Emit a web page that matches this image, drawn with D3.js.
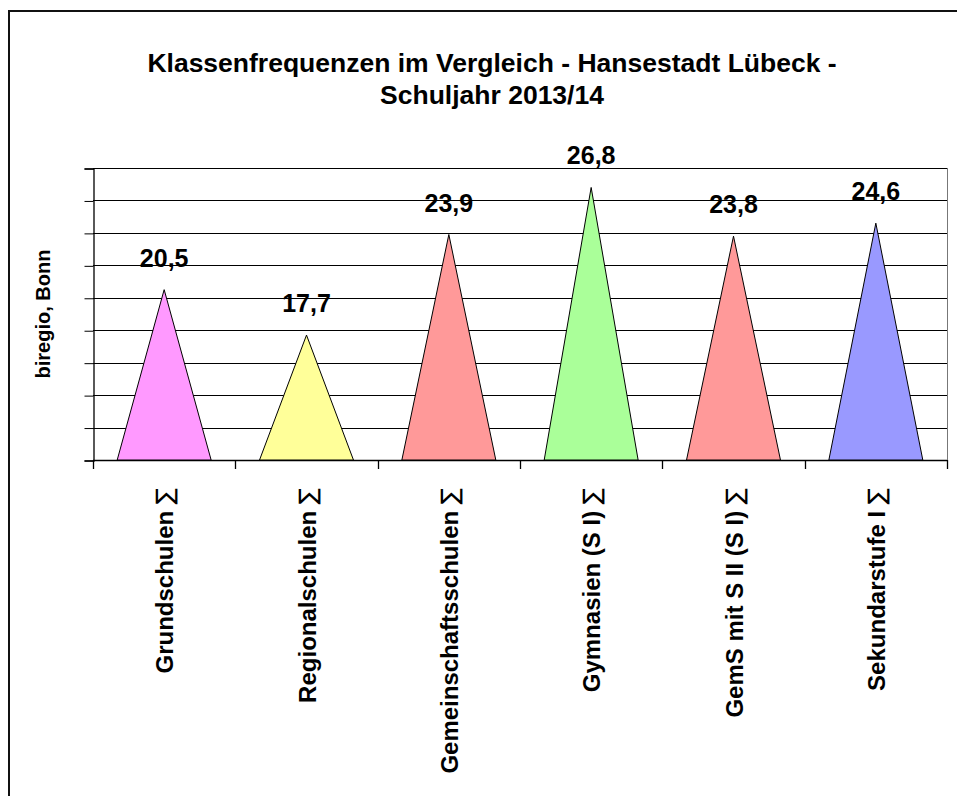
<!DOCTYPE html>
<html>
<head>
<meta charset="utf-8">
<script src="https://cdn.jsdelivr.net/npm/d3@7"></script>
<style>
  body { margin: 0; background: #fff; }
  text { font-family: "Liberation Sans", Arial, sans-serif; }
</style>
</head>
<body>
<svg id="chart" width="957" height="796"></svg>
<script>
const categories = [
  "Grundschulen \u2211",
  "Regionalschulen \u2211",
  "Gemeinschaftsschulen \u2211",
  "Gymnasien (S I) \u2211",
  "GemS mit S II (S I) \u2211",
  "Sekundarstufe I \u2211"
];
const values = [20.5, 17.7, 23.9, 26.8, 23.8, 24.6];
const barColors = ["#ff99ff", "#ffff99", "#ff9999", "#aaff99", "#ff9999", "#9999ff"];
const yTickValues = [10, 12, 14, 16, 18, 20, 22, 24, 26, 28];
const titleLines = ["Klassenfrequenzen im Vergleich - Hansestadt Lübeck -", "Schuljahr 2013/14"];
const yAxisTitle = "biregio, Bonn";

const svg = d3.select("#chart"),
  width = +svg.attr("width"),
  height = +svg.attr("height");

const plot = { left: 93, right: 947, top: 168, bottom: 460 };

svg.append("rect")
  .attr("width", width).attr("height", height).attr("fill", "#fff");

// outer chart frame (right/bottom run off the picture)
svg.append("rect")
  .attr("x", 9).attr("y", 11)
  .attr("width", width + 20).attr("height", height + 20)
  .attr("fill", "none").attr("stroke", "#111").attr("stroke-width", 2);

const x = d3.scaleBand()
  .domain(categories)
  .range([plot.left, plot.right])
  .paddingInner(0).paddingOuter(0);

const y = d3.scaleLinear()
  .domain([10, 28])
  .range([plot.bottom, plot.top]);

// gridlines
svg.append("g")
  .selectAll("line")
  .data(yTickValues)
  .join("line")
  .attr("x1", plot.left).attr("x2", plot.right)
  .attr("y1", (d) => Math.round(y(d)) + 0.5)
  .attr("y2", (d) => Math.round(y(d)) + 0.5)
  .attr("stroke", "#000").attr("stroke-width", 1);

// right edge of plot area
svg.append("line")
  .attr("x1", plot.right + 0.5).attr("x2", plot.right + 0.5)
  .attr("y1", plot.top).attr("y2", plot.bottom)
  .attr("stroke", "#777").attr("stroke-width", 1);

// y axis (ticks only, no labels)
svg.append("g")
  .attr("transform", `translate(${plot.left + 0.5},0.5)`)
  .call(d3.axisLeft(y).tickValues(yTickValues).tickSize(9).tickFormat(""))
  .call((g) => g.select(".domain").attr("stroke", "#000").attr("stroke-width", 1.3))
  .call((g) => g.selectAll(".tick line").attr("stroke", "#000"));

// x axis line + band boundary ticks
const bounds = categories.map((c) => x(c)).concat([plot.right]);
svg.append("line")
  .attr("x1", plot.left).attr("x2", plot.right)
  .attr("y1", plot.bottom + 0.5).attr("y2", plot.bottom + 0.5)
  .attr("stroke", "#000").attr("stroke-width", 1.3);
svg.append("g")
  .selectAll("line")
  .data(bounds)
  .join("line")
  .attr("x1", (d) => Math.round(d) + 0.5).attr("x2", (d) => Math.round(d) + 0.5)
  .attr("y1", plot.bottom).attr("y2", plot.bottom + 9)
  .attr("stroke", "#000").attr("stroke-width", 1.3);

// triangles
const halfW = x.bandwidth() * 0.33;
svg.append("g")
  .selectAll("path")
  .data(values)
  .join("path")
  .attr("d", (d, i) => {
    const cx = x(categories[i]) + x.bandwidth() / 2;
    return `M${cx - halfW},${y(10)}L${cx},${y(d)}L${cx + halfW},${y(10)}Z`;
  })
  .attr("fill", (d, i) => barColors[i])
  .attr("stroke", "#000")
  .attr("stroke-width", 1);

// value labels
svg.append("g")
  .selectAll("text")
  .data(values)
  .join("text")
  .attr("x", (d, i) => x(categories[i]) + x.bandwidth() / 2)
  .attr("y", (d) => y(d) - 23)
  .attr("text-anchor", "middle")
  .attr("font-size", "25px")
  .attr("font-weight", "bold")
  .text((d) => d.toFixed(1).replace(".", ","));

// category labels (sigma drawn thin, as in the original)
const catLabels = svg.append("g")
  .selectAll("text")
  .data(categories)
  .join("text")
  .attr("transform", (d) => `translate(${x(d) + x.bandwidth() / 2 + 9},488) rotate(-90)`)
  .attr("text-anchor", "end")
  .attr("font-size", "24px")
  .attr("font-weight", "bold");
catLabels.append("tspan").text((d) => d.slice(0, -1));
catLabels.append("tspan")
  .attr("font-weight", "normal")
  .attr("font-family", "DejaVu Sans, sans-serif")
  .text((d) => d.slice(-1));

// title
svg.append("g")
  .selectAll("text")
  .data(titleLines)
  .join("text")
  .attr("x", 492)
  .attr("y", (d, i) => 72 + i * 32)
  .attr("text-anchor", "middle")
  .attr("font-size", "26.5px")
  .attr("font-weight", "bold")
  .text((d) => d);

// y axis title
svg.append("text")
  .attr("transform", "translate(50,314) rotate(-90)")
  .attr("text-anchor", "middle")
  .attr("font-size", "20px")
  .attr("font-weight", "bold")
  .text(yAxisTitle);
</script>
</body>
</html>
